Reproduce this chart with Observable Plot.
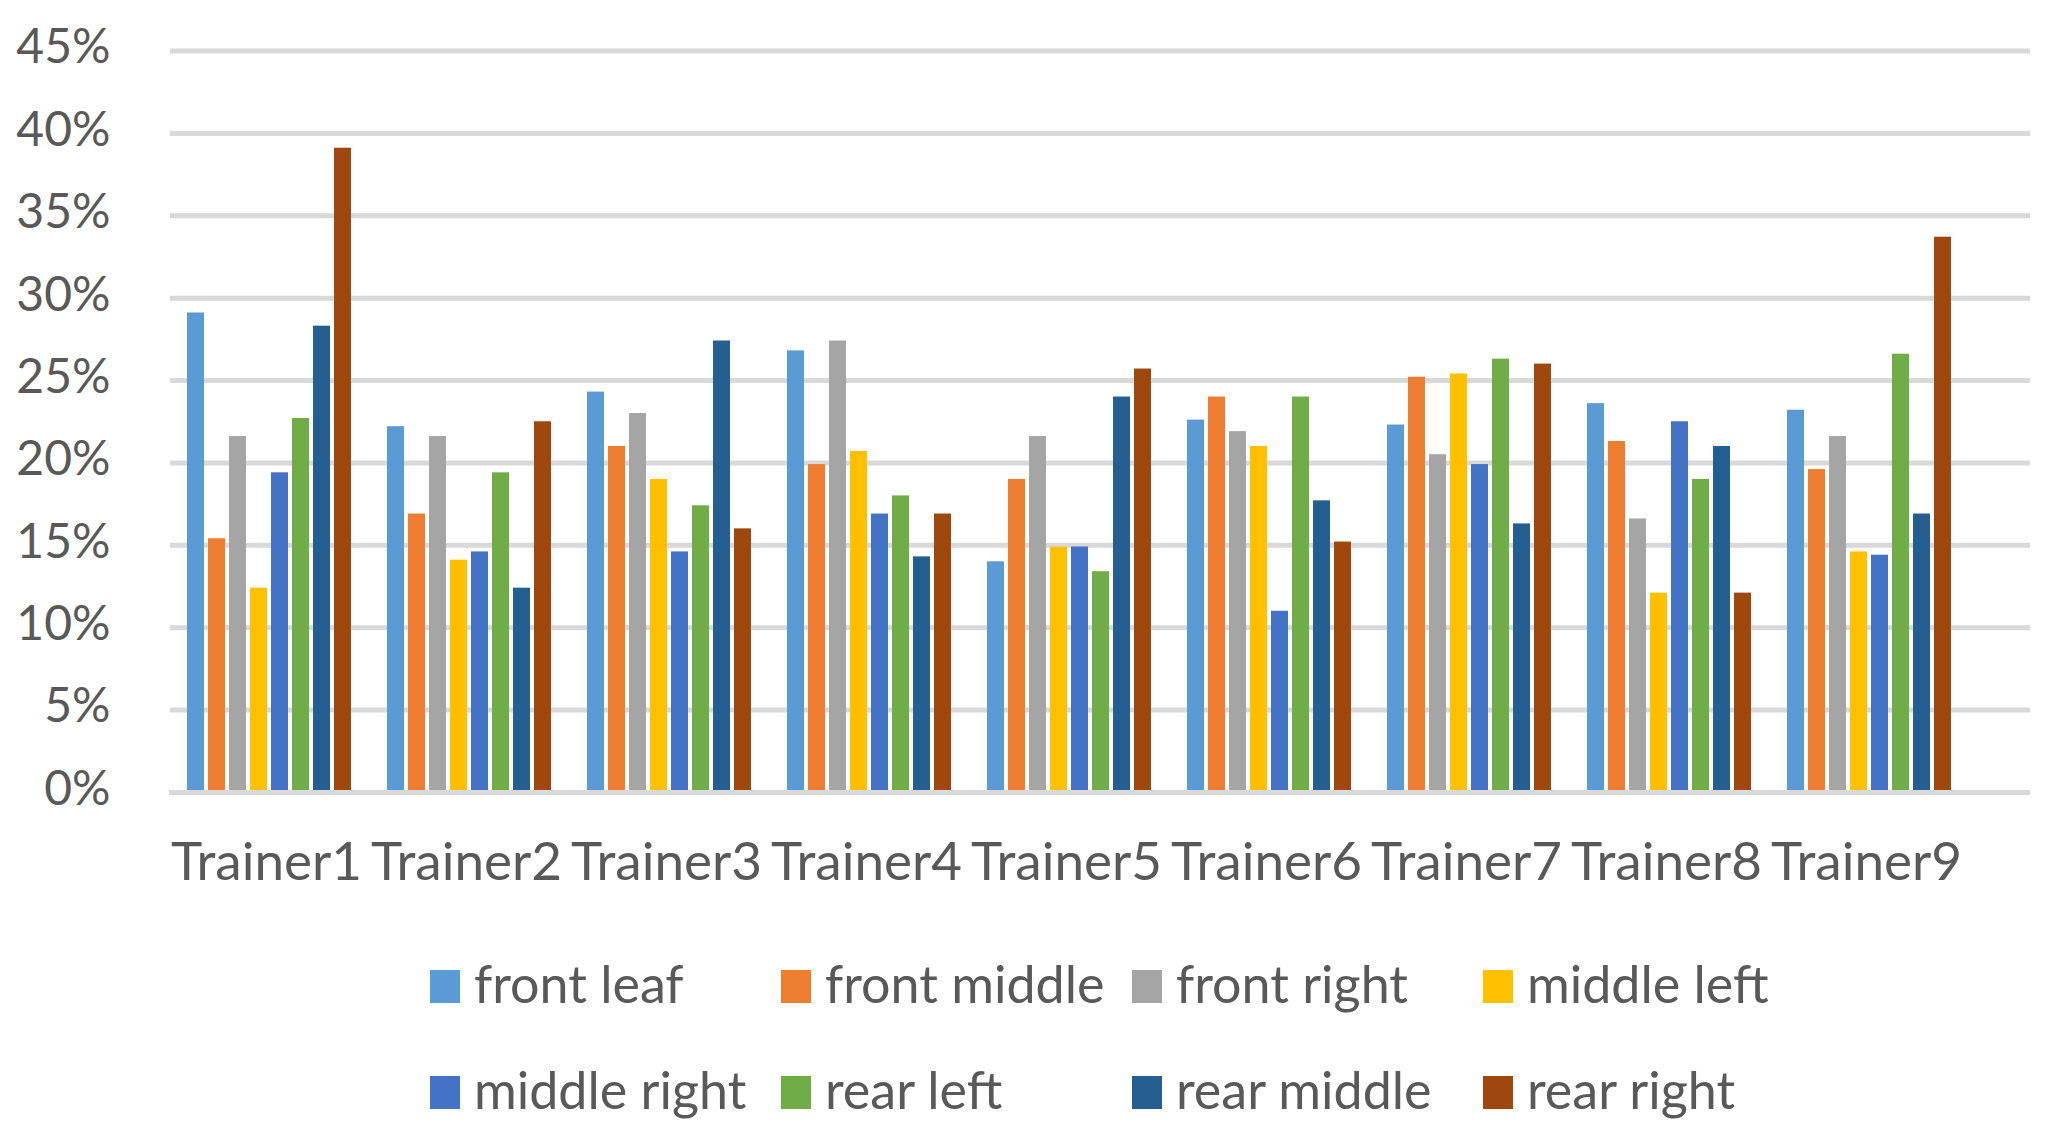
<!DOCTYPE html>
<html><head><meta charset="utf-8">
<script src="https://cdn.jsdelivr.net/npm/d3@7"></script>
<script src="https://cdn.jsdelivr.net/npm/@observablehq/plot@0.6"></script>
<style>
html,body{margin:0;padding:0;background:#fff;}
#chart{position:relative;width:2061px;height:1144px;font-family:Lato,sans-serif;color:#595959;}
#chart svg{position:absolute;left:0;top:0;}
#legend{position:absolute;left:430px;top:930px;display:grid;grid-template-columns:repeat(4,351px);grid-auto-rows:106px;font-size:52px;line-height:106px;}
.item{white-space:nowrap;}
.sw{display:inline-block;width:30px;height:33px;margin-right:14px;vertical-align:baseline;}
</style></head><body><div id="chart"><div id="legend"></div></div>
<script>
const trainers = ["Trainer1","Trainer2","Trainer3","Trainer4","Trainer5","Trainer6","Trainer7","Trainer8","Trainer9"];
const seriesNames = ["front leaf","front middle","front right","middle left","middle right","rear left","rear middle","rear right"];
const seriesColors = ["#5B9BD5","#ED7D31","#A5A5A5","#FFC000","#4472C4","#70AD47","#255E91","#9E480E"];

// values in percent, one array per series, ordered by trainer
const frontLeaf   = [29.1, 22.2, 24.3, 26.8, 14.0, 22.6, 22.3, 23.6, 23.2];
const frontMiddle = [15.4, 16.9, 21.0, 19.9, 19.0, 24.0, 25.2, 21.3, 19.6];
const frontRight  = [21.6, 21.6, 23.0, 27.4, 21.6, 21.9, 20.5, 16.6, 21.6];
const middleLeft  = [12.4, 14.1, 19.0, 20.7, 14.9, 21.0, 25.4, 12.1, 14.6];
const middleRight = [19.4, 14.6, 14.6, 16.9, 14.9, 11.0, 19.9, 22.5, 14.4];
const rearLeft    = [22.7, 19.4, 17.4, 18.0, 13.4, 24.0, 26.3, 19.0, 26.6];
const rearMiddle  = [28.3, 12.4, 27.4, 14.3, 24.0, 17.7, 16.3, 21.0, 16.9];
const rearRight   = [39.1, 22.5, 16.0, 16.9, 25.7, 15.2, 26.0, 12.1, 33.7];

const yTicks = [0, 0.05, 0.10, 0.15, 0.20, 0.25, 0.30, 0.35, 0.40, 0.45];
const yTickLabels = ["0%","5%","10%","15%","20%","25%","30%","35%","40%","45%"];

const seriesValues = [frontLeaf, frontMiddle, frontRight, middleLeft, middleRight, rearLeft, rearMiddle, rearRight];
const data = trainers.flatMap((t, i) => seriesNames.map((s, j) => ({trainer: t, series: s, value: seriesValues[j][i] / 100})));

const W = 2061, H = 930, MT = 50.5, MB = 138;
const baseStyle = {fontFamily: "Lato, sans-serif", color: "#595959", background: "transparent", overflow: "visible"};

const bg = Plot.plot({
  width: W, height: H, marginLeft: 170, marginRight: 31, marginTop: MT, marginBottom: MB,
  style: baseStyle,
  y: {domain: [0, 0.45], axis: null},
  marks: [
    Plot.ruleY(yTicks, {stroke: "#d9d9d9", strokeWidth: 5}),
    Plot.axisY({ticks: yTicks, tickSize: 0, tickPadding: 60, tickFormat: d => yTickLabels[yTicks.indexOf(d)], fontSize: 48, fill: "#595959", label: null, dy: -3})
  ]
});

const fg = Plot.plot({
  width: W, height: H, marginLeft: 166, marginRight: 89, marginTop: MT, marginBottom: MB,
  style: baseStyle,
  fx: {domain: trainers, padding: 0, label: null, axis: null},
  x: {domain: seriesNames, paddingInner: 0.19, paddingOuter: 0.8, axis: null},
  y: {domain: [0, 0.45], axis: null},
  color: {domain: seriesNames, range: seriesColors},
  marks: [
    Plot.barY(data, {fx: "trainer", x: "series", y: "value", fill: "series"}),
    Plot.ruleY([0], {stroke: "#d9d9d9", strokeWidth: 5}),
    Plot.axisFx({anchor: "bottom", tickSize: 0, tickPadding: 50, fontSize: 53, fill: "#595959", label: null, dx: -3})
  ]
});

const chart = document.getElementById("chart");
chart.insertBefore(fg, chart.firstChild);
chart.insertBefore(bg, chart.firstChild);

const legend = document.getElementById("legend");
seriesNames.forEach((s, j) => {
  const item = document.createElement("div");
  item.className = "item";
  const sw = document.createElement("span");
  sw.className = "sw";
  sw.style.background = seriesColors[j];
  item.appendChild(sw);
  item.appendChild(document.createTextNode(s));
  legend.appendChild(item);
});
</script>
</body></html>
